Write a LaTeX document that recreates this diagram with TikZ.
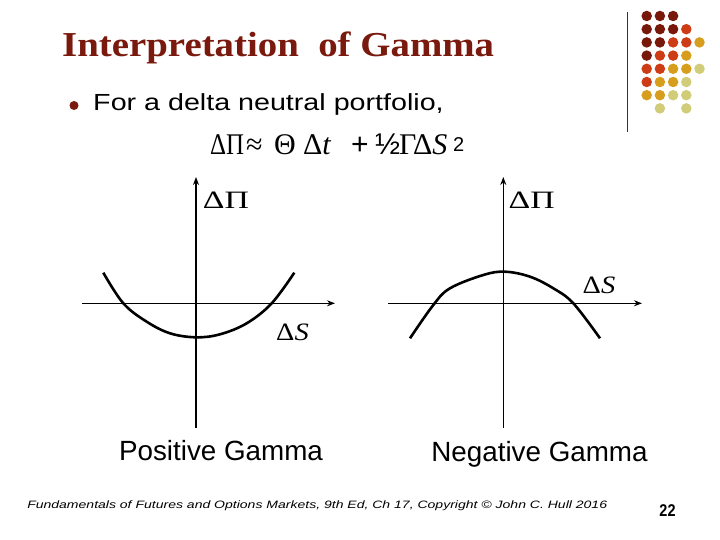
\documentclass[tikz,border=0pt]{standalone}
\usepackage{fontspec}
\setmainfont{Liberation Serif}
\newfontfamily\arialf{Liberation Sans}
\usetikzlibrary{arrows.meta}
\definecolor{titlered}{RGB}{122,26,14}
\definecolor{dkred}{RGB}{120,24,10}
\definecolor{orred}{RGB}{205,60,20}
\definecolor{gold}{RGB}{215,158,30}
\definecolor{pale}{RGB}{208,204,120}
\tikzset{
  axis/.style={line width=1.6pt, -{Stealth[length=8pt,width=6pt]}},
  curve/.style={line width=2.6pt},
  dot/.style={circle, inner sep=0pt, minimum size=10.5pt, fill=#1},
  bodytext/.style={font=\arialf\fontsize{27.8}{30}\selectfont, inner sep=0pt},
  axlabel/.style={font=\fontsize{25}{27}\selectfont, inner sep=0pt, anchor=base},
  fpart/.style={font=\fontsize{30}{32}\selectfont, inner sep=0pt, anchor=base west},
}
\begin{document}
\begin{tikzpicture}[x=1pt,y=-1pt]
\useasboundingbox (0,0) rectangle (720,540);
\fill[white] (0,0) rectangle (720,540);
% decorative dots
\foreach \r/\list in {1/{1/dkred,2/dkred,3/dkred},
                      2/{1/dkred,2/dkred,3/dkred,4/orred},
                      3/{1/dkred,2/dkred,3/orred,4/orred,5/gold},
                      4/{1/dkred,2/orred,3/orred,4/gold},
                      5/{1/orred,2/orred,3/gold,4/gold,5/pale},
                      6/{1/orred,2/gold,3/gold,4/pale},
                      7/{1/gold,2/gold,3/pale,4/pale},
                      8/{2/pale,4/pale}}{
  \foreach \c/\col in \list {
    \node[dot=\col] (d\r\c) at ({633.5+13.2*\c},{2.8+13.2*\r}) {};
  }
}
\coordinate (vtop) at (627,12);
\coordinate (vbot) at (627,132);
\draw[line width=1pt, black!80] (vtop) -- (vbot);
% title
\node[anchor=base west, inner sep=0pt, text=titlered, font=\fontsize{35}{37}\selectfont\bfseries, xscale=1.11] (title) at (62,56.7) {Interpretation\ \ of Gamma};
% bullet
\node[circle, fill=titlered, inner sep=0pt, minimum size=9pt] (bullet) at (74,105.5) {};
\node[anchor=base west, inner sep=0pt, font=\arialf\fontsize{23.3}{25}\selectfont, xscale=1.23] (line1) at (93,111) {For a delta neutral portfolio,};
% formula
\node[fpart, xscale=0.83] (f1) at (210,155) {ΔΠ};
\node[fpart] (f2) at (246,155) {≈};
\node[fpart] (f3) at (274,155) {Θ};
\node[fpart] (f4) at (303,155) {Δ\textit{t}};
\node[fpart, font=\arialf\fontsize{30}{32}\selectfont] (f5) at (351,155) {+};
\node[fpart, font=\arialf\fontsize{30}{32}\selectfont] (f6) at (375,155) {½};
\node[fpart] (f7) at (399,155) {ΓΔ\textit{S}};
\node[fpart, font=\arialf\fontsize{20}{22}\selectfont] (f8) at (453,151.5) {2};
% left plot
\coordinate (lx0) at (82,303.3);
\coordinate (lx1) at (335,303.3);
\coordinate (ly0) at (196,428);
\coordinate (ly1) at (196,177);
\draw[axis] (lx0) -- (lx1);
\draw[axis] (ly0) -- (ly1);
\draw[curve] plot[smooth, tension=0.6] coordinates {(103.3,272.7) (123.3,303.3) (146.7,321.7) (170,333.3) (196,337.3) (220,334.3) (246.7,323.3) (271.7,303.3) (294.3,272.7)};
\node[axlabel, xscale=1.35] (lpi) at (226,208.5) {ΔΠ};
\node[axlabel, xscale=1.14] (ls) at (292.5,340) {Δ\textit{S}};
\node[bodytext, anchor=base] (lcap) at (221,460) {Positive Gamma};
% right plot
\coordinate (rx0) at (388,303.3);
\coordinate (rx1) at (642,303.3);
\coordinate (ry0) at (503.3,428);
\coordinate (ry1) at (503.3,177);
\draw[axis] (rx0) -- (rx1);
\draw[axis] (ry0) -- (ry1);
\draw[curve] plot[smooth, tension=0.6] coordinates {(410,338.3) (433.3,305) (450,288.3) (483.3,275) (505,271.7) (530,276.7) (553.3,288.3) (573.3,303.3) (600,338.3)};
\node[axlabel, xscale=1.35] (rpi) at (531.7,208.5) {ΔΠ};
\node[axlabel, xscale=1.14] (rs) at (599,293.3) {Δ\textit{S}};
\node[bodytext, anchor=base] (rcap) at (539.5,461) {Negative Gamma};
% footer
\node[anchor=base west, inner sep=0pt, font=\arialf\itshape\fontsize{10.7}{12}\selectfont, xscale=1.31] (foot) at (27,508) {Fundamentals of Futures and Options Markets, 9th Ed, Ch 17, Copyright © John C. Hull 2016};
\node[anchor=base, inner sep=0pt, font=\arialf\bfseries\fontsize{17}{18}\selectfont, xscale=0.85] (page) at (667.5,516) {22};
\end{tikzpicture}
\end{document}
